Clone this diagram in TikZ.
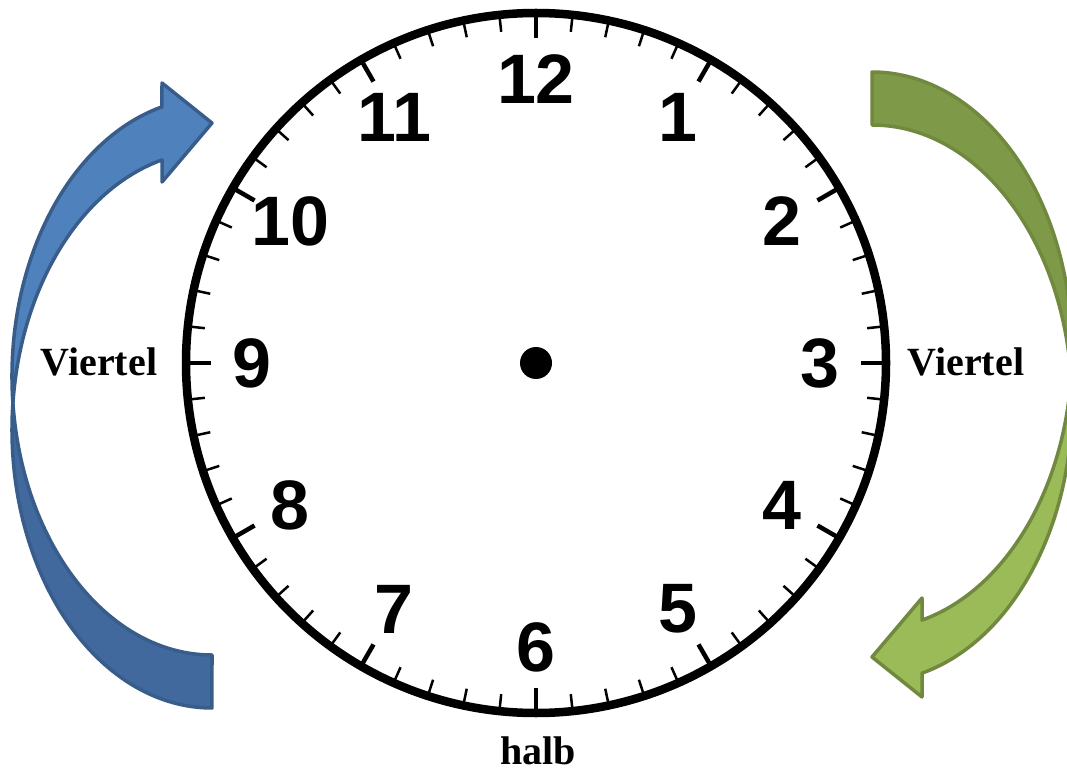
\documentclass[tikz,border=0pt]{standalone}
\usepackage{fontspec}
\setmainfont{Liberation Serif}
\newfontfamily\ziffernfont{Liberation Sans}
\usetikzlibrary{calc}
\definecolor{blauhell}{RGB}{79,129,189}
\definecolor{blaudunkel}{RGB}{65,105,158}
\definecolor{blaurand}{RGB}{56,93,138}
\definecolor{gruenhell}{RGB}{155,187,89}
\definecolor{gruendunkel}{RGB}{126,154,72}
\definecolor{gruenrand}{RGB}{113,137,63}

\tikzset{
  ziffer/.style={font=\ziffernfont\bfseries\fontsize{70}{70}\selectfont, inner sep=0pt},
  beschriftung/.style={font=\bfseries\fontsize{40}{40}\selectfont, inner sep=0pt, anchor=base},
  minutenstrich/.style={line width=2.5pt},
  stundenstrich/.style={line width=4.5pt},
  pfeilrand/.style={line width=3.5pt, line join=round},
  bogen/.style={x radius=200, y radius=278.5},
}

% gebogener Pfeil: #1 helle Fuellung, #2 dunkle Fuellung, #3 Rand
\newcommand{\viertelpfeil}[3]{%
  % hinterer Teil
  \filldraw[pfeilrand, fill=#2, draw=#3]
    (12.9,369) arc[bogen, start angle=174.54, end angle=270]
    -- (212,117) arc[bogen, start angle=270, end angle=185.46] -- cycle;
  % vorderer Teil mit Spitze
  \filldraw[pfeilrand, fill=#1, draw=#3]
    (12.9,369) arc[bogen, start angle=185.46, end angle=104.48]
    -- (162,689) -- (212,649) -- (162,590) -- (162,612.1)
    arc[bogen, start angle=104.48, end angle=174.54] -- cycle;
}

\begin{document}
\begin{tikzpicture}[x=1pt, y=1pt]
  \useasboundingbox (0,0) rectangle (1067,772);

  % Pfeile
  \viertelpfeil{blauhell}{blaudunkel}{blaurand}
  \begin{scope}[rotate around={180:(542,382)}]
    \viertelpfeil{gruenhell}{gruendunkel}{gruenrand}
  \end{scope}

  % Zifferblatt
  \coordinate (mitte) at (536,409);
  \foreach \w in {0,6,...,354}
    \draw[minutenstrich] ($(mitte)+(\w:333)$) -- ($(mitte)+(\w:350)$);
  \foreach \w in {0,30,...,330}
    \draw[stundenstrich] ($(mitte)+(\w:325)$) -- ($(mitte)+(\w:350)$);
  \draw[line width=8.5pt] (mitte) circle[radius=350];
  \fill (mitte) circle[radius=16];

  \foreach \z [evaluate=\z as \w using 90-30*\z] in {1,...,12}
    \node[ziffer] (z\z) at ($(mitte)+(\w:284)$) {\z};

  % Beschriftungen
  \node[beschriftung] (viertellinks) at (99,397) {Viertel};
  \node[beschriftung] (viertelrechts) at (966,397) {Viertel};
  \node[beschriftung] (halb) at (538,8) {halb};
\end{tikzpicture}
\end{document}
